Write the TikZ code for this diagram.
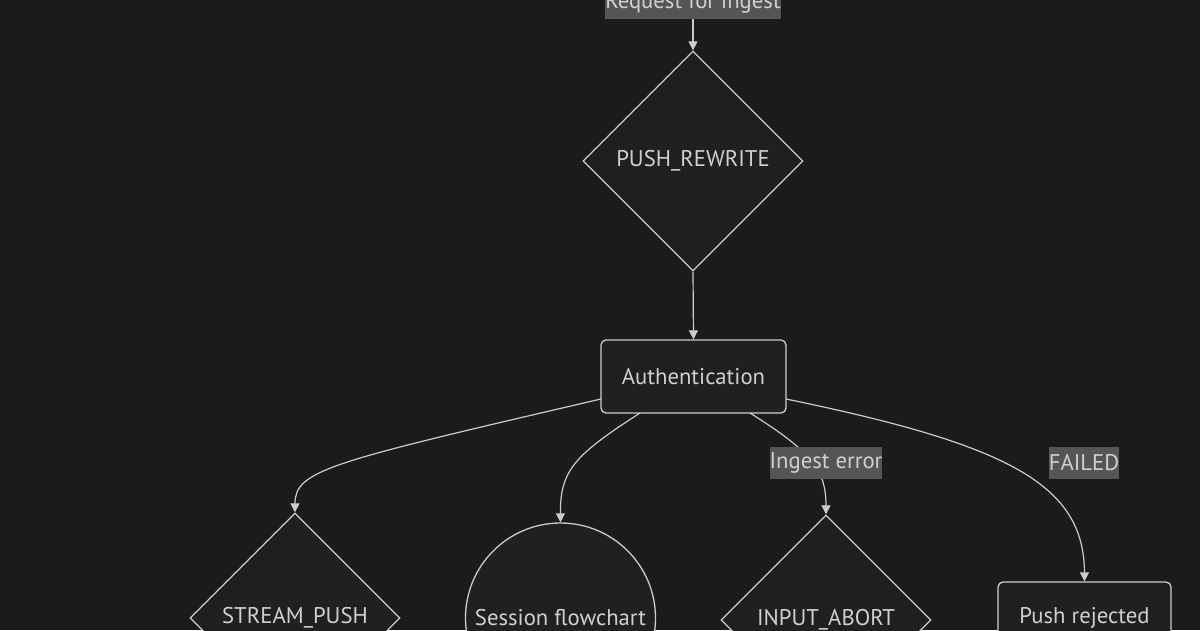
\documentclass[tikz,border=0pt]{standalone}
\usepackage{fontspec}
\setmainfont{PT Sans}
\usetikzlibrary{shapes.geometric,arrows.meta}
\definecolor{bgc}{HTML}{1B1B1D}
\definecolor{nodefill}{HTML}{1F2020}
\definecolor{strokec}{HTML}{CCCCCC}
\definecolor{txt}{HTML}{D0D0D0}
\definecolor{lblbg}{HTML}{555555}
\tikzset{
  base/.style={draw=strokec, fill=nodefill, line width=1.3pt, text=txt, font=\fontsize{22.7}{26}\selectfont, inner sep=0pt},
  dia/.style={base, diamond, minimum width=#1, minimum height=#1},
  roundbox/.style={base, rectangle, rounded corners=5pt},
  circ/.style={base, circle, minimum size=#1},
  elabel/.style={fill=lblbg, text=txt, font=\fontsize{22.7}{26}\selectfont, inner xsep=0pt, inner ysep=0pt, minimum height=32pt},
  edge/.style={draw=strokec, line width=1.2pt, -{Triangle[length=9pt,width=9pt]}}
}
\begin{document}
\begin{tikzpicture}[x=1pt,y=-1pt]
\fill[bgc] (0,0) rectangle (1200,630);
\useasboundingbox (0,0) rectangle (1200,630);

\node[elabel] (req) at (693,3) {Request for ingest};
\node[dia=220pt] (pr) at (693,161) {PUSH\_REWRITE};
\node[roundbox, minimum width=185pt, minimum height=73pt] (auth) at (693.5,376.5) {Authentication};
\node[dia=210pt] (sp) at (295,618) {STREAM\_PUSH};
\node[circ=190pt] (sf) at (560.5,618) {Session flowchart};
\node[dia=210pt] (ia) at (826,620) {INPUT\_ABORT};
\node[roundbox, minimum width=173pt, minimum height=72pt] (rej) at (1084.5,618) {Push rejected};

\coordinate (c1) at (601,399);
\coordinate (c2) at (640,413);
\coordinate (c3) at (750,413);
\coordinate (c4) at (786,399);

\draw[edge] (req.south) -- (pr.north);
\draw[edge] (pr.south) -- (auth.north);
\draw[edge] (c1) .. controls (330,462) and (295,470) .. (sp.north);
\draw[edge] (c2) .. controls (575,455) and (560,470) .. (sf.north);
\draw[edge] (c3) .. controls (812,452) and (826,470) .. (ia.north);
\draw[edge] (c4) .. controls (1010,445) and (1084,485) .. (rej.north);

\node[elabel] (l1) at (826,463) {Ingest error};
\node[elabel] (l2) at (1084,463) {FAILED};
\end{tikzpicture}
\end{document}
